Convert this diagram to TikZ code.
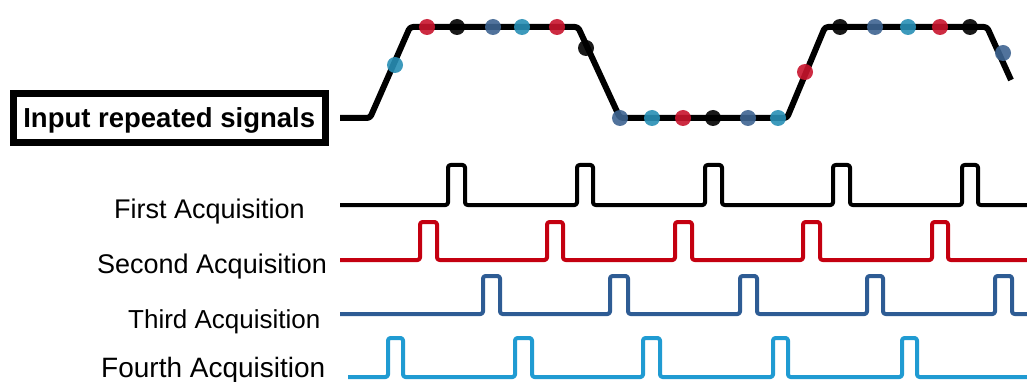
\documentclass[tikz,border=0pt]{standalone}
\usepackage{fontspec}
\setmainfont{Liberation Sans}
\definecolor{sigred}{RGB}{196,0,16}
\definecolor{sigdblue}{RGB}{46,92,148}
\definecolor{siglblue}{RGB}{32,155,210}
\definecolor{dotred}{RGB}{200,20,45}
\definecolor{dotdblue}{RGB}{62,100,145}
\definecolor{dotlblue}{RGB}{40,143,181}
\begin{document}
\begin{tikzpicture}[x=1pt,y=-1pt,
  lbl/.style={anchor=base west,inner sep=0pt,font=\fontsize{27}{30}\selectfont},
  input/.style={line width=6pt,line join=round,rounded corners=3pt},
  train/.style={line width=4pt,line join=round,rounded corners=2.5pt},
  sdot/.style={fill=#1,opacity=0.9}]
\useasboundingbox (0,0) rectangle (1027,382);

% input box
\node (box) [draw,line width=7pt,minimum width=311.5pt,minimum height=49pt,inner sep=0pt,
  text height=20pt,text depth=0pt,font=\fontsize{27.5}{30}\selectfont\bfseries]
  at (169.25,118) {Input repeated signals};

% labels
\node (l1) [lbl] at (114,218) {First Acquisition};
\node (l2) [lbl] at (97,273) {Second Acquisition};
\node (l3) [lbl,font=\fontsize{26}{30}\selectfont] at (128,328) {Third Acquisition};
\node (l4) [lbl,font=\fontsize{28}{30}\selectfont] at (101,377) {Fourth Acquisition};

% input signal
\coordinate (s0) at (340,118);
\draw[input] (s0) -- (370,118) -- (410,27) -- (578,27) -- (620,118) -- (787,118)
  -- (825,27) -- (987,27) -- (1011,80);

% sample dots
\foreach \x/\y/\c in {395/65/dotlblue,427/27/dotred,457/27/black,493/27/dotdblue,
  522/27/dotlblue,557/27/dotred,586/48/black,620/118/dotdblue,652/118/dotlblue,
  683/118/dotred,713/118/black,748/118/dotdblue,778/118/dotlblue,805/72/dotred,
  840/27/black,875/27/dotdblue,908/27/dotlblue,940/27/dotred,970/27/black,1003/53/dotdblue}
  \fill[sdot=\c] (\x,\y) circle[radius=8pt];

% first acquisition (black)
\draw[train,black] (340,205)
  -- (448,205) -- (448,165) -- (465,165) -- (465,205)
  -- (577,205) -- (577,165) -- (593,165) -- (593,205)
  -- (705,205) -- (705,165) -- (722,165) -- (722,205)
  -- (833,205) -- (833,165) -- (850,165) -- (850,205)
  -- (962,205) -- (962,165) -- (978,165) -- (978,205)
  -- (1030,205);

% second acquisition (red)
\draw[train,sigred] (340,260)
  -- (420,260) -- (420,222) -- (437,222) -- (437,260)
  -- (547,260) -- (547,222) -- (563,222) -- (563,260)
  -- (675,260) -- (675,222) -- (692,222) -- (692,260)
  -- (803,260) -- (803,222) -- (820,222) -- (820,260)
  -- (932,260) -- (932,222) -- (948,222) -- (948,260)
  -- (1030,260);

% third acquisition (dark blue)
\draw[train,sigdblue] (340,314)
  -- (483,314) -- (483,276) -- (500,276) -- (500,314)
  -- (610,314) -- (610,276) -- (628,276) -- (628,314)
  -- (740,314) -- (740,276) -- (757,276) -- (757,314)
  -- (867,314) -- (867,276) -- (883,276) -- (883,314)
  -- (995,314) -- (995,276) -- (1012,276) -- (1012,314)
  -- (1030,314);

% fourth acquisition (light blue)
\draw[train,siglblue] (348,377)
  -- (388,377) -- (388,338) -- (403,338) -- (403,377)
  -- (515,377) -- (515,338) -- (532,338) -- (532,377)
  -- (643,377) -- (643,338) -- (660,338) -- (660,377)
  -- (773,377) -- (773,338) -- (788,338) -- (788,377)
  -- (902,377) -- (902,338) -- (917,338) -- (917,377)
  -- (1030,377);
\end{tikzpicture}
\end{document}
